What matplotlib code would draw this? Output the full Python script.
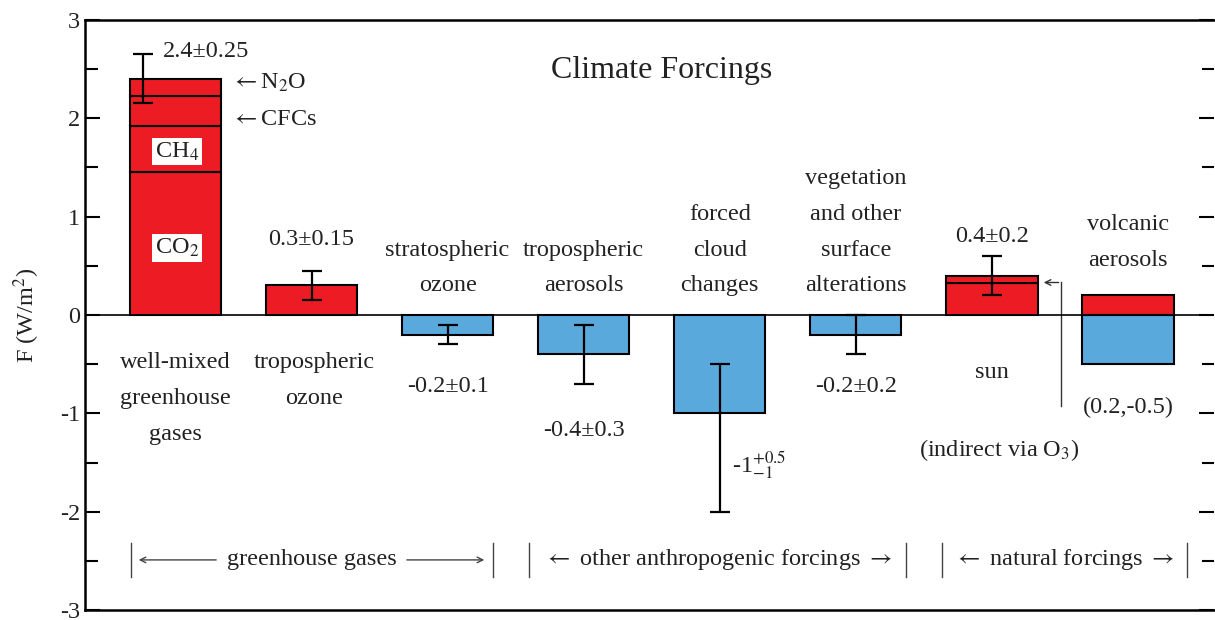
import numpy as np
import matplotlib
matplotlib.use("Agg")
from matplotlib import pyplot as plt

plt.rcParams['font.family'] = ['Liberation Serif', 'DejaVu Serif']
plt.rcParams['mathtext.fontset'] = 'stix'
plt.rcParams['axes.unicode_minus'] = False

RED = '#ED1C24'
BLUE = '#5AA9DD'
TXT = '#222222'

# forcings (W/m2)
categories = ['well-mixed\ngreenhouse\ngases', 'tropospheric\nozone',
              'stratospheric\nozone', 'tropospheric\naerosols',
              'forced\ncloud\nchanges', 'vegetation\nand other\nsurface\nalterations',
              'sun', 'volcanic\naerosols']
values = [2.4, 0.3, -0.2, -0.4, -1.0, -0.2, 0.4]
err_low = [0.25, 0.15, 0.1, 0.3, 1.0, 0.2, 0.2]
err_high = [0.25, 0.15, 0.1, 0.3, 0.5, 0.2, 0.2]
value_labels = ['2.4±0.25', '0.3±0.15', '-0.2±0.1', '-0.4±0.3',
                '-1$^{+0.5}_{\\mathrm{-}1}$', '-0.2±0.2', '0.4±0.2']

# well-mixed greenhouse gases stacked
ghg_names = ['CO$_2$', 'CH$_4$', 'CFCs', 'N$_2$O']
ghg_parts = [1.45, 0.47, 0.31, 0.17]

# sun: direct + indirect via O3
sun_parts = [0.32, 0.08]

# volcanic aerosols range
volcanic = (0.2, -0.5)

groups = ['greenhouse gases', 'other anthropogenic forcings', 'natural forcings']
group_spans = [(-0.33, 2.33), (2.6, 5.37), (5.63, 7.43)]

x = np.arange(len(categories))
w = 0.67
LA = '$\\leftarrow$'
RA = '$\\rightarrow$'

fig = plt.figure(figsize=(12.15, 6.2), dpi=100)
ax = fig.add_axes([0.07, 0.016, 0.929, 0.952])

# greenhouse stack
bottom = 0
for p in ghg_parts:
    ax.bar(x[0], p, w, bottom=bottom, color=RED, edgecolor='black', linewidth=1.5)
    bottom += p
# other bars
for i in range(1, 6):
    ax.bar(x[i], values[i], w, color=RED if values[i] > 0 else BLUE,
           edgecolor='black', linewidth=1.5)
bottom = 0
for p in sun_parts:
    ax.bar(x[6], p, w, bottom=bottom, color=RED, edgecolor='black', linewidth=1.5)
    bottom += p
ax.bar(x[7], volcanic[0], w, color=RED, edgecolor='black', linewidth=1.5)
ax.bar(x[7], volcanic[1], w, color=BLUE, edgecolor='black', linewidth=1.5)

ax.axhline(0, color='black', linewidth=1.2, zorder=3)

# error bars
ex = x[:7].astype(float)
ex[0] = -0.24
ax.errorbar(ex, values, yerr=[err_low, err_high], fmt='none', ecolor='black',
            elinewidth=1.6, capsize=7.5, capthick=1.6, zorder=4)

fs = 17.5
ls = 1.92
kw = dict(fontsize=fs, color=TXT)
# category labels
ax.text(0, -0.38, categories[0], ha='center', va='top', linespacing=ls, **kw)
ax.text(1.02, -0.38, categories[1], ha='center', va='top', linespacing=ls, **kw)
for i in [2, 3, 4, 5]:
    ax.text(x[i], 0.19, categories[i], ha='center', va='bottom', linespacing=ls, **kw)
ax.text(6, -0.58, categories[6], ha='center', va='center', **kw)
ax.text(7, 0.45, categories[7], ha='center', va='bottom', linespacing=ls, **kw)

# value labels
ax.text(-0.09, 2.68, value_labels[0], ha='left', va='center', **kw)
ax.text(1.0, 0.77, value_labels[1], ha='center', va='center', **kw)
ax.text(2.0, -0.73, value_labels[2], ha='center', va='center', **kw)
ax.text(3.0, -1.17, value_labels[3], ha='center', va='center', **kw)
ax.text(4.09, -1.53, value_labels[4], ha='left', va='center', **kw)
ax.text(5.0, -0.73, value_labels[5], ha='center', va='center', **kw)
ax.text(6.0, 0.8, value_labels[6], ha='center', va='center', **kw)
ax.text(7.0, -0.94, '(%g,%g)' % volcanic, ha='center', va='center', **kw)

# gas labels
box = dict(facecolor='white', edgecolor='none', pad=2)
ax.text(0.01, 0.68, ghg_names[0], ha='center', va='center', bbox=box, **kw)
ax.text(0.01, 1.66, ghg_names[1], ha='center', va='center', bbox=box, **kw)
ax.text(0.41, 1.99, LA + ghg_names[2], ha='left', va='center', **kw)
ax.text(0.41, 2.36, LA + ghg_names[3], ha='left', va='center', **kw)

# indirect solar arrow
ax.plot([6.51, 6.51], [0.33, -0.93], color='#333333', linewidth=1)
ax.annotate('', xy=(6.36, 0.33), xytext=(6.51, 0.33),
            arrowprops=dict(arrowstyle='->', color='#333333', lw=1))
ax.text(6.05, -1.37, '(indirect via O$_3$)', ha='center', va='center', **kw)

ax.text(3.57, 2.49, 'Climate Forcings', ha='center', va='center', fontsize=23, color=TXT)

# group brackets
gy = -2.49
for (a, b), g in zip(group_spans, groups):
    ax.plot([a, a], [gy - 0.17, gy + 0.17], color='#444444', linewidth=1)
    ax.plot([b, b], [gy - 0.17, gy + 0.17], color='#444444', linewidth=1)
    if g == 'greenhouse gases':
        mid = (a + b) / 2
        ax.text(mid, gy, g, ha='center', va='center', **kw)
        ax.annotate('', xy=(a + 0.04, gy), xytext=(mid - 0.68, gy),
                    arrowprops=dict(arrowstyle='->', color='#444444', lw=1))
        ax.annotate('', xy=(b - 0.04, gy), xytext=(mid + 0.68, gy),
                    arrowprops=dict(arrowstyle='->', color='#444444', lw=1))
    else:
        ax.text((a + b) / 2, gy, LA + ' ' + g + ' ' + RA, ha='center', va='center', **kw)

ax.set_xlim(-0.664, 7.63)
ax.set_ylim(-3, 3)
ax.set_xticks([])
ax.set_yticks(np.arange(-3, 4, 1))
ax.set_yticks(np.arange(-2.5, 3, 1), minor=True)
ax.tick_params(axis='y', which='both', direction='in', right=True, labelsize=fs,
               labelcolor=TXT, width=1.5)
ax.tick_params(axis='y', which='major', length=11)
ax.tick_params(axis='y', which='minor', length=9)
ax.spines['right'].set_visible(False)
for s in ['left', 'top', 'bottom']:
    ax.spines[s].set_linewidth(1.8)
ax.set_ylabel('F (W/m$^2$)', fontsize=fs, color=TXT, labelpad=13)

fig.savefig('out.png', dpi=100)
